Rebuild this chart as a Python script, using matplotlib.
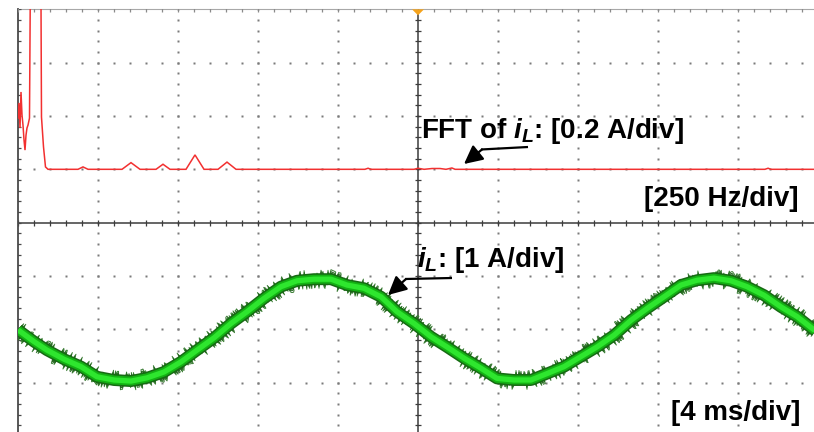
import numpy as np
import matplotlib
matplotlib.use("Agg")
import matplotlib.pyplot as plt
from matplotlib.patches import Polygon, FancyArrowPatch

plt.rcParams["font.family"] = ["Liberation Sans", "DejaVu Sans"]
plt.rcParams["mathtext.fontset"] = "custom"
plt.rcParams["mathtext.rm"] = "Liberation Sans:bold"
plt.rcParams["mathtext.bf"] = "Liberation Sans:bold"
plt.rcParams["mathtext.it"] = "Liberation Sans:italic:bold"

# ---- FFT of the inductor current (frequency in Hz, magnitude in A) ----
fft_freq_hz = [0, 3.1, 6.3, 9.4, 12.5, 15.6, 18.8, 21.9, 25.0, 28.1, 31.3, 35.9,
               39.1, 46.9, 62.5, 71.3, 73.4, 79.7, 85.9, 93.8,
               131.3, 187.5, 203.1, 218.8, 325.0, 353.1, 381.3, 431.3, 453.1, 475.0,
               525.0, 553.1, 581.3, 625.0, 653.1, 681.3,
               1084, 1094, 1103, 1237.5, 1250, 1269, 1294, 1319, 1337.5, 1356, 1366,
               2334, 2344, 2353, 2500]
fft_amp_a = [0.192, 0.249, 0.155, 0.290, 0.204, 0.166, 0.110, 0.072, 0.128, 0.155, 0.166, 0.192,
             0.785, 0.95, 0.95, 0.785, 0.196, 0.084, 0.009, 0.0,
             0.0, 0.0, 0.009, 0.0, 0.0, 0.025, 0.0, 0.0, 0.019, 0.0,
             0.0, 0.054, 0.0, 0.0, 0.027, 0.0,
             0.0, 0.004, 0.0, 0.0, 0.004, 0.0, 0.003, 0.003, 0.0, 0.005, 0.0,
             0.0, 0.004, 0.0, 0.0]

# ---- inductor current waveform (time in ms, current in A) ----
t_ms = [-20.0, -19.2, -18.55, -17.7, -16.85, -16.05, -15.2, -14.35, -13.55, -12.7,
        -11.85, -11.05, -10.2, -9.35, -8.55, -7.7, -6.85, -6.05, -5.2, -4.35,
        -3.55, -2.7, -1.85, -1.05, -0.2, 0.65, 1.45, 2.3, 3.15, 3.95,
        4.8, 5.65, 6.45, 7.3, 8.15, 8.95, 9.8, 10.65, 11.45, 12.3,
        13.15, 13.95, 14.8, 15.65, 16.45, 17.3, 18.15, 18.95, 19.8, 20.0]
il_a = [-0.01, -0.23, -0.39, -0.56, -0.70, -0.89, -0.95, -0.97, -0.91, -0.80,
        -0.61, -0.39, -0.16, 0.11, 0.33, 0.58, 0.80, 0.91, 0.94, 0.94,
        0.83, 0.77, 0.61, 0.33, 0.11, -0.14, -0.33, -0.54, -0.73, -0.92,
        -0.95, -0.95, -0.83, -0.70, -0.51, -0.33, -0.11, 0.17, 0.39, 0.61,
        0.83, 0.92, 0.96, 0.91, 0.80, 0.64, 0.42, 0.24, -0.01, -0.06]

W, H = 814, 432
fig = plt.figure(figsize=(W / 100, H / 100), dpi=100)
fig.patch.set_facecolor("white")

# screen area: 10 x 8 divisions, 80 px x 53.33 px per division
pos = [18 / W, (H - 436) / H, 800 / W, 426.7 / H]

# graticule axes in division units
ax = fig.add_axes(pos)
ax.set_xlim(-5, 5)
ax.set_ylim(-4, 4)
ax.axis("off")

minor_x = np.arange(-5, 5.001, 0.2)
minor_y = np.arange(-4, 4.001, 0.2)
dot_kw = dict(ls="none", marker="s", ms=1.5, mec="none", mfc="#7a7a7a", zorder=1)
for k in range(-4, 5):
    if k != 0:
        ax.plot(np.full_like(minor_y, k), minor_y, **dot_kw)
for j in range(-3, 4):
    if j != 0:
        ax.plot(minor_x, np.full_like(minor_x, j), **dot_kw)

# centre cross with fine ticks
ax.axvline(0, color="#3c3c3c", lw=1.1, zorder=2)
ax.axhline(0, color="#3c3c3c", lw=1.1, zorder=2)
ax.plot(np.zeros_like(minor_y), minor_y, ls="none", marker="_", ms=5, mew=0.9,
        color="#3c3c3c", zorder=2)
ax.plot(minor_x, np.zeros_like(minor_x), ls="none", marker="|", ms=5, mew=0.9,
        color="#3c3c3c", zorder=2)

# screen border (left and top)
ax.plot([-5, -5], [-4, 4], color="#4a4a4a", lw=1.3, clip_on=False, zorder=2)
ax.plot([-5, 5], [4, 4], color="#a8a8a8", lw=0.8, clip_on=False, zorder=2)
ax.plot(np.full_like(minor_y, -5), minor_y, ls="none", marker="_", ms=5, mew=0.9,
        color="#4a4a4a", zorder=2)
ax.plot(minor_x, np.full_like(minor_x, 4), ls="none", marker="|", ms=5, mew=0.9,
        color="#8a8a8a", zorder=2)

# trigger position marker
ax.add_patch(Polygon([(-6 / 80, 4), (6 / 80, 4), (0, 4 - 6 / 53.33)], closed=True,
                     facecolor="#f5a31c", edgecolor="none", clip_on=False, zorder=5))

# FFT channel: 250 Hz/div, 0.2 A/div, zero one division above centre
ax_f = fig.add_axes(pos)
ax_f.set_xlim(0, 2500)
ax_f.set_ylim(-1.0, 0.6)
ax_f.axis("off")
ax_f.patch.set_alpha(0)
ax_f.plot(fft_freq_hz, fft_amp_a, color="#f23030", lw=1.1, solid_joinstyle="miter",
          zorder=3)

# time channel: 4 ms/div, 1 A/div, zero two divisions below centre
ax_t = fig.add_axes(pos)
ax_t.set_xlim(-20, 20)
ax_t.set_ylim(-2, 6)
ax_t.axis("off")
ax_t.patch.set_alpha(0)
# thin, heavily sketched strokes give the switching-noise fringe
for lw, sk, c in [(0.7, 9.5, "#3b7d35"), (0.8, 7.5, "#2a6a25"), (0.8, 6.0, "#1f5e1b")]:
    fringe, = ax_t.plot(t_ms, il_a, color=c, lw=lw, zorder=3)
    fringe.set_sketch_params(scale=sk, length=1.0, randomness=1.5)
ax_t.plot(t_ms, il_a, color="#176a14", lw=8.6, solid_capstyle="butt", zorder=3)
ax_t.plot(t_ms, il_a, color="#13b213", lw=6.4, solid_capstyle="butt", zorder=3)
ax_t.plot(t_ms, il_a, color="#2ee62e", lw=3.8, solid_capstyle="butt", zorder=3)


def px(x, y):
    return x / W, 1 - y / H


txt_kw = dict(fontsize=20, fontweight="bold", color="black", va="baseline")
fig.text(*px(421, 138), r"FFT of $i_L$: [0.2 A/div]", ha="left", **txt_kw)
fig.text(*px(799, 206), "[250 Hz/div]", ha="right", **txt_kw)
fig.text(*px(417, 267), r"$i_L$: [1 A/div]", ha="left", **txt_kw)
fig.text(*px(800, 420.5), "[4 ms/div]", ha="right", **txt_kw)

# callout arrows
line_kw = dict(color="black", lw=1.6, solid_capstyle="butt")
fig.add_artist(plt.Line2D([528 / W, 481 / W], [1 - 147 / H, 1 - 149.5 / H],
                          transform=fig.transFigure, **line_kw))
fig.add_artist(plt.Line2D([452 / W, 405 / W], [1 - 278 / H, 1 - 279 / H],
                          transform=fig.transFigure, **line_kw))
arrow_kw = dict(arrowstyle="-|>,head_length=0.7,head_width=0.35", color="black",
                lw=1.6, shrinkA=0, shrinkB=0, mutation_scale=16)
fig.add_artist(FancyArrowPatch(px(482, 149.5), px(464, 164),
                               transform=fig.transFigure, **arrow_kw))
fig.add_artist(FancyArrowPatch(px(406, 279), px(388, 295),
                               transform=fig.transFigure, **arrow_kw))

fig.savefig("out.png", dpi=100, facecolor="white")
